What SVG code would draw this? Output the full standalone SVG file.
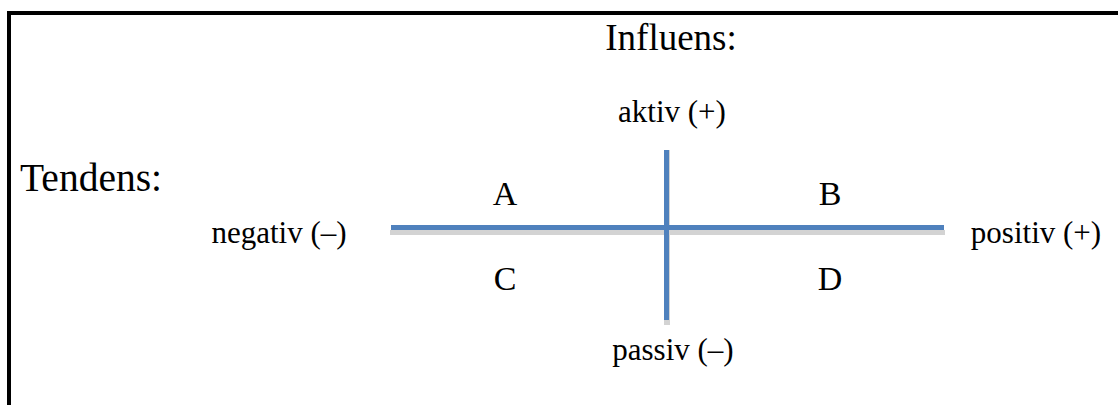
<svg xmlns="http://www.w3.org/2000/svg" width="1118" height="405" viewBox="0 0 1118 405">
<style>
text{font-family:"Liberation Serif","Times New Roman",serif;fill:#000}
.t{font-size:37px}
.l{font-size:31px;text-anchor:middle}
.q{font-size:34px;text-anchor:middle}
.ax{fill:#4f81bd}
.sh{fill:#d3d3d3}
</style>
<rect width="1118" height="405" fill="#fff"/>
<g id="frame">
<rect x="7" y="11" width="1111" height="4" fill="#000"/>
<rect x="7" y="11" width="4" height="394" fill="#000"/>
</g>
<g id="connectors">
<rect class="sh" x="390" y="230" width="555" height="5"/>
<rect class="sh" x="664" y="150" width="6" height="175"/>
<rect class="ax" x="391" y="225" width="553" height="5"/>
<rect class="ax" x="664" y="150" width="5" height="170"/>
</g>
<g id="title-influens"><text class="t" x="671" y="50" text-anchor="middle">Influens:</text></g>
<g id="title-tendens"><text class="t" x="20" y="191" style="font-size:39.5px">Tendens:</text></g>
<g id="label-aktiv"><text class="l" x="672" y="122">aktiv (+)</text></g>
<g id="label-passiv"><text class="l" x="673" y="360">passiv (–)</text></g>
<g id="label-negativ"><text class="l" x="279" y="243">negativ (–)</text></g>
<g id="label-positiv"><text class="l" x="1036" y="243">positiv (+)</text></g>
<g id="quad-A"><text class="q" x="505" y="205">A</text></g>
<g id="quad-B"><text class="q" x="830" y="205">B</text></g>
<g id="quad-C"><text class="q" x="505" y="290">C</text></g>
<g id="quad-D"><text class="q" x="830" y="290">D</text></g>
</svg>
